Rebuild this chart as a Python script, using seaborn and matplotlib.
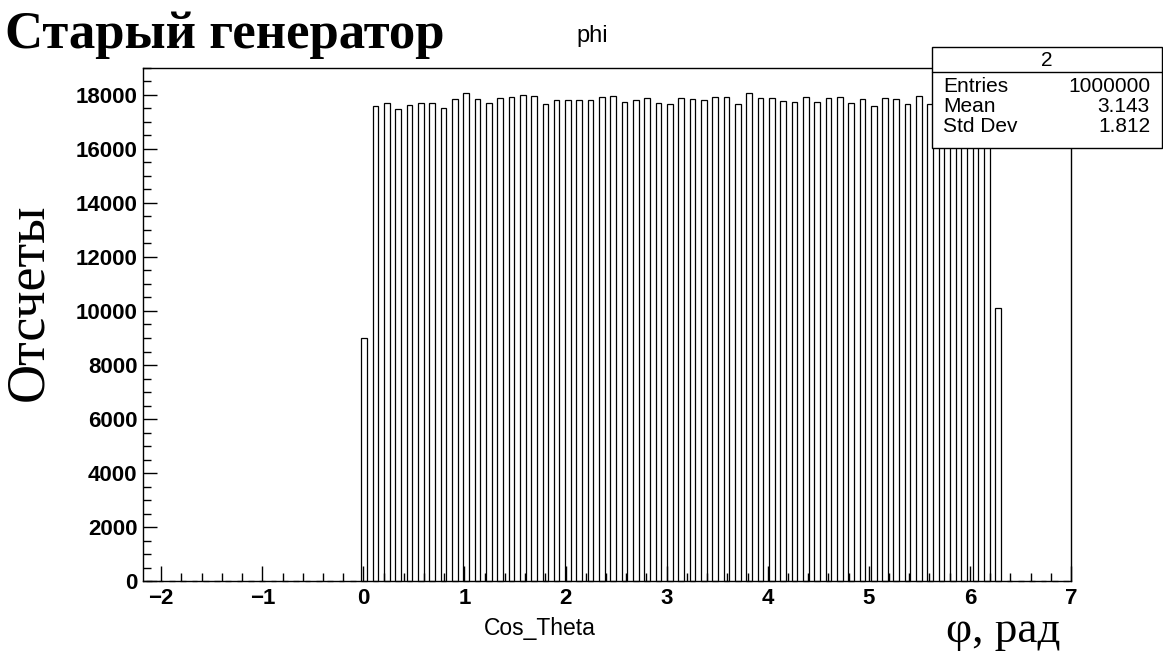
import numpy as np
import pandas as pd
import matplotlib
matplotlib.use("Agg")
import matplotlib.pyplot as plt
from matplotlib.patches import Rectangle
from matplotlib.lines import Line2D
from matplotlib.ticker import MultipleLocator, FixedLocator
import seaborn as sns

# ---- data: phi histogram (1e6 entries), filled bins cover 0 .. 2*pi ----
phi_counts = [9000, 17600, 17720, 17490, 17640, 17720, 17720, 17530, 17850, 18070,
              17850, 17720, 17890, 17940, 18010, 17970, 17680, 17830, 17830, 17830,
              17830, 17940, 17970, 17750, 17830, 17890, 17720, 17650, 17890, 17860,
              17830, 17940, 17940, 17680, 18070, 17890, 17890, 17790, 17750, 17940,
              17750, 17890, 17940, 17720, 17850, 17600, 17890, 17850, 17680, 17970,
              17680, 17850, 17900, 17700, 17950, 17800, 10100]
n_empty_left = 19          # empty bins below phi = 0
n_empty_right = 6          # empty bins above 2*pi
bin_width = 0.112
first_bar_left = -0.02     # left edge of the bar holding phi = 0

stats_name = "2"
stats_rows = [("Entries", "1000000"), ("Mean", "3.143"), ("Std Dev", "1.812")]

x_ticks = [-2, -1, 0, 1, 2, 3, 4, 5, 6, 7]
y_ticks = [0, 2000, 4000, 6000, 8000, 10000, 12000, 14000, 16000, 18000]

# ---- build the binned table ----
counts = np.r_[np.zeros(n_empty_left), phi_counts, np.zeros(n_empty_right)]
idx = np.arange(-n_empty_left, len(phi_counts) + n_empty_right)
bar_left = first_bar_left + idx * bin_width
centers = bar_left + 0.25 * bin_width
edges = [float(e) for e in np.r_[centers - 0.5 * bin_width,
                                 centers[-1] + 0.5 * bin_width]]
df = pd.DataFrame({"phi": centers, "count": counts})

# ---- style ----
sns.set_style("ticks")
plt.rcParams["font.family"] = ["Liberation Sans", "DejaVu Sans"]
plt.rcParams["text.color"] = "black"
plt.rcParams["axes.labelcolor"] = "black"
plt.rcParams["xtick.color"] = "black"
plt.rcParams["ytick.color"] = "black"
plt.rcParams["axes.edgecolor"] = "black"

W, H = 1163, 653
fig = plt.figure(figsize=(W / 100, H / 100), dpi=100)
fig.patch.set_facecolor("white")

def fx(px):
    return px / W

def fy(py):
    return 1 - py / H

ax_l, ax_r, ax_t, ax_b = 143, 1071, 68, 581
ax = fig.add_axes([fx(ax_l), fy(ax_b), fx(ax_r - ax_l), (ax_b - ax_t) / H])

sns.histplot(data=df, x="phi", weights="count", bins=edges, shrink=0.5,
             fill=False, color="black", linewidth=0.9, ax=ax)
# let the flat (empty) bars show their full outline on the baseline
for p in ax.patches:
    p.set_clip_on(False)

ax.set_xlim(-2.18, 7.0)
ax.set_ylim(0, 19000)
ax.set_xlabel("")
ax.set_ylabel("")

for s in ax.spines.values():
    s.set_visible(True)
    s.set_color("black")
    s.set_linewidth(1.0)

ax.xaxis.set_major_locator(FixedLocator(x_ticks))
ax.xaxis.set_minor_locator(MultipleLocator(0.2))
ax.yaxis.set_major_locator(FixedLocator(y_ticks))
ax.yaxis.set_minor_locator(MultipleLocator(500))
ax.tick_params(axis="x", which="major", direction="in", length=11, width=1,
               pad=5, labelsize=16, colors="black")
ax.tick_params(axis="x", which="minor", direction="in", length=6, width=1,
               colors="black")
ax.tick_params(axis="y", which="major", direction="in", length=10, width=1,
               pad=4, labelsize=16, colors="black")
ax.tick_params(axis="y", which="minor", direction="in", length=6, width=1,
               colors="black")
ax.set_yticklabels([str(v) for v in y_ticks])
for lab in ax.get_xticklabels() + ax.get_yticklabels():
    lab.set_fontweight("bold")

# ---- titles and axis captions ----
fig.text(fx(5), fy(35), "Старый генератор", family="Liberation Serif",
         fontweight="bold", fontsize=38, ha="left", va="center")
fig.text(fx(592), fy(36), "phi", fontsize=17, ha="center", va="center")
fig.text(fx(540), fy(628), "Cos_Theta", fontsize=16.5, ha="center", va="center")
fig.text(fx(1003), fy(631), "φ, рад", family="Liberation Serif", fontsize=32.5,
         ha="center", va="center")
fig.text(fx(29), fy(302), "Отсчеты", family="Liberation Serif", fontsize=39,
         rotation=90, ha="center", va="center")

# ---- statistics box ----
bx_l, bx_r, bx_t, bx_hdr, bx_b = 932, 1162, 47, 72, 148
fig.add_artist(Rectangle((fx(bx_l), fy(bx_b)), fx(bx_r - bx_l), (bx_b - bx_t) / H,
                         transform=fig.transFigure, facecolor="white",
                         edgecolor="black", linewidth=1.0, zorder=5))
fig.add_artist(Line2D([fx(bx_l), fx(bx_r)], [fy(bx_hdr), fy(bx_hdr)],
                      transform=fig.transFigure, color="black", linewidth=1.0,
                      zorder=6))
fig.text(fx((bx_l + bx_r) / 2), fy(60), stats_name, fontsize=15,
         ha="center", va="center", zorder=7)
for i, (name, val) in enumerate(stats_rows):
    yy = fy(87 + 20 * i)
    fig.text(fx(943), yy, name, fontsize=15, ha="left", va="center", zorder=7)
    fig.text(fx(1150), yy, val, fontsize=15, ha="right", va="center", zorder=7)

fig.savefig("out.png", dpi=100)
